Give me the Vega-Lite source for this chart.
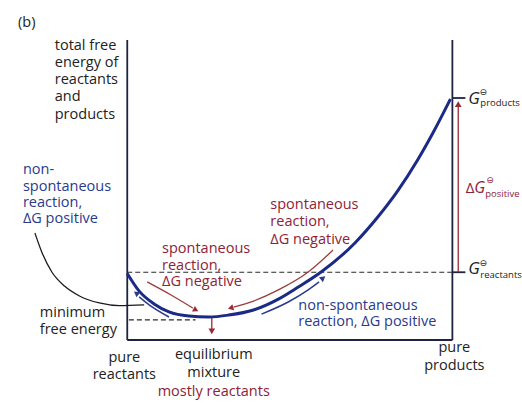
{
  "$schema": "https://vega.github.io/schema/vega-lite/v6.json",
  "width": 522,
  "height": 411,
  "autosize": {"type": "fit", "contains": "padding"},
  "padding": 0,
  "background": "white",
  "config": {"view": {"stroke": null}, "font": "Open Sans"},
  "datasets": {
    "curve": [
      {"x": 0, "y": 27.5}, {"x": 3.67, "y": 20.2}, {"x": 8.26, "y": 14.9}, {"x": 12.84, "y": 11.6},
      {"x": 18.96, "y": 9.9}, {"x": 25.08, "y": 9.5}, {"x": 31.19, "y": 10.3}, {"x": 38.84, "y": 12.4},
      {"x": 46.48, "y": 16.9}, {"x": 52.6, "y": 21.9}, {"x": 59.63, "y": 28.1}, {"x": 70.03, "y": 40.1},
      {"x": 77.06, "y": 50.8}, {"x": 83.18, "y": 61.6}, {"x": 89.3, "y": 74.4}, {"x": 94.5, "y": 86.8},
      {"x": 99.4, "y": 99.6}
    ],
    "paths": [
      {"id": "r1", "o": 1, "x": 6.12, "y": 24.0}, {"id": "r1", "o": 2, "x": 13.46, "y": 18.6}, {"id": "r1", "o": 3, "x": 20.18, "y": 13.2},
      {"id": "r2", "o": 1, "x": 63.3, "y": 37.2}, {"id": "r2", "o": 2, "x": 55.66, "y": 28.1}, {"id": "r2", "o": 3, "x": 46.48, "y": 20.7}, {"id": "r2", "o": 4, "x": 38.84, "y": 16.1}, {"id": "r2", "o": 5, "x": 32.7, "y": 13.6},
      {"id": "b1", "o": 1, "x": 12.84, "y": 9.5}, {"id": "b1", "o": 2, "x": 6.73, "y": 14.5}, {"id": "b1", "o": 3, "x": 3.67, "y": 17.8},
      {"id": "b2", "o": 1, "x": 41.3, "y": 10.7}, {"id": "b2", "o": 2, "x": 49.5, "y": 15.7}, {"id": "b2", "o": 3, "x": 55.66, "y": 20.7}, {"id": "b2", "o": 4, "x": 59.0, "y": 24.0},
      {"id": "k1", "o": 1, "x": -28.4, "y": 44.2}, {"id": "k1", "o": 2, "x": -26.3, "y": 36.4}, {"id": "k1", "o": 3, "x": -23.2, "y": 28.1}, {"id": "k1", "o": 4, "x": -19.3, "y": 22.3}, {"id": "k1", "o": 5, "x": -14.7, "y": 18.2}, {"id": "k1", "o": 6, "x": -8.6, "y": 15.3}, {"id": "k1", "o": 7, "x": -2.4, "y": 14.2}, {"id": "k1", "o": 8, "x": 5.2, "y": 14.5}
    ],
    "texts": [
      {"g": "bl", "x": -33.6, "y": 131, "t": "(b)"},
      {"g": "bl", "x": -22.3, "y": 121.5, "t": "total free"},
      {"g": "bl", "x": -22.3, "y": 114.5, "t": "energy of"},
      {"g": "bl", "x": -22.3, "y": 107.4, "t": "reactants"},
      {"g": "bl", "x": -22.3, "y": 100.4, "t": "and"},
      {"g": "bl", "x": -22.3, "y": 93.0, "t": "products"},
      {"g": "bl", "x": -26.9, "y": 11.2, "t": "minimum"},
      {"g": "bl", "x": -26.9, "y": 4.1, "t": "free energy"},
      {"g": "bc", "x": -0.9, "y": -7.4, "t": "pure"},
      {"g": "bc", "x": -0.9, "y": -14.5, "t": "reactants"},
      {"g": "bc", "x": 26.6, "y": -6.2, "t": "equilibrium"},
      {"g": "bc", "x": 26.6, "y": -13.6, "t": "mixture"},
      {"g": "bc", "x": 100.6, "y": -3.3, "t": "pure"},
      {"g": "bc", "x": 100.6, "y": -10.7, "t": "products"},
      {"g": "rc", "x": 26.6, "y": -21.5, "t": "mostly reactants"},
      {"g": "rl", "x": 10.7, "y": 37.6, "t": "spontaneous"},
      {"g": "rl", "x": 10.7, "y": 30.6, "t": "reaction,"},
      {"g": "rl", "x": 10.7, "y": 24.0, "t": "ΔG negative"},
      {"g": "rl", "x": 44.0, "y": 55.8, "t": "spontaneous"},
      {"g": "rl", "x": 44.0, "y": 48.8, "t": "reaction,"},
      {"g": "rl", "x": 44.0, "y": 41.3, "t": "ΔG negative"},
      {"g": "ul", "x": -32.1, "y": 70.2, "t": "non-"},
      {"g": "ul", "x": -32.1, "y": 63.2, "t": "spontaneous"},
      {"g": "ul", "x": -32.1, "y": 56.6, "t": "reaction,"},
      {"g": "ul", "x": -32.1, "y": 50.0, "t": "ΔG positive"},
      {"g": "ul", "x": 52.6, "y": 14.0, "t": "non-spontaneous"},
      {"g": "ul", "x": 52.6, "y": 7.4, "t": "reaction, ΔG positive"},
      {"g": "gk", "x": 104.9, "y": 99.6, "t": "G"},
      {"g": "gk", "x": 104.9, "y": 29.3, "t": "G"},
      {"g": "gr", "x": 106.7, "y": 62.8, "t": "G"},
      {"g": "dr", "x": 104.1, "y": 62.8, "t": "Δ"},
      {"g": "sk", "x": 109.5, "y": 102.5, "t": "⊖"},
      {"g": "sk", "x": 109.5, "y": 31.8, "t": "⊖"},
      {"g": "sr", "x": 111.6, "y": 66.3, "t": "⊖"},
      {"g": "subk", "x": 108.6, "y": 97.9, "t": "products"},
      {"g": "subk", "x": 108.6, "y": 26.9, "t": "reactants"},
      {"g": "subr", "x": 110.1, "y": 60.5, "t": "positive"}
    ]
  },
  "encoding": {
    "x": {"field": "x", "type": "quantitative", "scale": {"domain": [-39.14, 120.49], "nice": false, "zero": false}, "axis": null},
    "y": {"field": "y", "type": "quantitative", "scale": {"domain": [-29.34, 140.5], "nice": false, "zero": false}, "axis": null}
  },
  "layer": [
    {
      "data": {"values": [
        {"x": 0, "y": 28, "x2": 100, "y2": 28},
        {"x": 0.5, "y": 8.3, "x2": 21, "y2": 8.3}
      ]},
      "mark": {"type": "rule", "color": "#2a2a2a", "strokeWidth": 1.2, "strokeDash": [5, 3]},
      "encoding": {"x2": {"field": "x2"}, "y2": {"field": "y2"}}
    },
    {
      "data": {"values": [
        {"x": 0, "y": 0, "x2": 0, "y2": 124},
        {"x": 0, "y": 0, "x2": 100, "y2": 0},
        {"x": 100, "y": 0, "x2": 100, "y2": 124},
        {"x": 100, "y": 100, "x2": 104, "y2": 100},
        {"x": 100, "y": 28, "x2": 104, "y2": 28}
      ]},
      "mark": {"type": "rule", "color": "#1f2340", "strokeWidth": 1.8},
      "encoding": {"x2": {"field": "x2"}, "y2": {"field": "y2"}}
    },
    {
      "data": {"values": [
        {"x": 101.8, "y": 28, "x2": 101.8, "y2": 97},
        {"x": 26.0, "y": 9.3, "x2": 26.0, "y2": 4.0}
      ]},
      "mark": {"type": "rule", "color": "#9a2a36", "strokeWidth": 1.3},
      "encoding": {"x2": {"field": "x2"}, "y2": {"field": "y2"}}
    },
    {
      "data": {"name": "curve"},
      "mark": {"type": "line", "color": "#1b2a85", "strokeWidth": 3, "interpolate": "monotone"},
      "encoding": {}
    },
    {
      "data": {"name": "paths"},
      "transform": [{"filter": "datum.id === 'r1' || datum.id === 'r2'"}],
      "mark": {"type": "line", "color": "#9c3b3b", "strokeWidth": 1.3, "interpolate": "monotone"},
      "encoding": {"detail": {"field": "id"}, "order": {"field": "o"}}
    },
    {
      "data": {"name": "paths"},
      "transform": [{"filter": "datum.id === 'b1' || datum.id === 'b2'"}],
      "mark": {"type": "line", "color": "#2a3a8c", "strokeWidth": 1.5, "interpolate": "monotone"},
      "encoding": {"detail": {"field": "id"}, "order": {"field": "o"}}
    },
    {
      "data": {"name": "paths"},
      "transform": [{"filter": "datum.id === 'k1'"}],
      "mark": {"type": "line", "color": "#1a1a1a", "strokeWidth": 1.3, "interpolate": "monotone"},
      "encoding": {"order": {"field": "o"}}
    },
    {
      "data": {"values": [{"x": 101.8, "y": 97.5}]},
      "mark": {"type": "point", "shape": "triangle-up", "filled": true, "size": 45, "color": "#9a2a36", "opacity": 1}
    },
    {
      "data": {"values": [{"x": 26.0, "y": 3.6}]},
      "mark": {"type": "point", "shape": "triangle-down", "filled": true, "size": 45, "color": "#9a2a36", "opacity": 1}
    },
    {
      "data": {"values": [{"x": 21.1, "y": 12.4}]},
      "mark": {"type": "point", "shape": "triangle-right", "filled": true, "size": 40, "angle": 28, "color": "#9a2a36", "opacity": 1}
    },
    {
      "data": {"values": [{"x": 31.8, "y": 13.2}]},
      "mark": {"type": "point", "shape": "triangle-left", "filled": true, "size": 40, "angle": -17, "color": "#9a2a36", "opacity": 1}
    },
    {
      "data": {"values": [{"x": 2.75, "y": 19.4}]},
      "mark": {"type": "point", "shape": "triangle-left", "filled": true, "size": 40, "angle": 37, "color": "#2a3a8c", "opacity": 1}
    },
    {
      "data": {"values": [{"x": 60.24, "y": 25.6}]},
      "mark": {"type": "point", "shape": "triangle-right", "filled": true, "size": 40, "angle": -38, "color": "#2a3a8c", "opacity": 1}
    },
    {
      "data": {"name": "texts"},
      "transform": [{"filter": "datum.g === 'bl'"}],
      "mark": {"type": "text", "align": "left", "baseline": "middle", "fontSize": 14.5, "color": "#222222"},
      "encoding": {"text": {"field": "t"}}
    },
    {
      "data": {"name": "texts"},
      "transform": [{"filter": "datum.g === 'bc'"}],
      "mark": {"type": "text", "align": "center", "baseline": "middle", "fontSize": 14.5, "color": "#222222"},
      "encoding": {"text": {"field": "t"}}
    },
    {
      "data": {"name": "texts"},
      "transform": [{"filter": "datum.g === 'rc'"}],
      "mark": {"type": "text", "align": "center", "baseline": "middle", "fontSize": 14.5, "color": "#8e2236"},
      "encoding": {"text": {"field": "t"}}
    },
    {
      "data": {"name": "texts"},
      "transform": [{"filter": "datum.g === 'rl'"}],
      "mark": {"type": "text", "align": "left", "baseline": "middle", "fontSize": 14.5, "color": "#8e2236"},
      "encoding": {"text": {"field": "t"}}
    },
    {
      "data": {"name": "texts"},
      "transform": [{"filter": "datum.g === 'ul'"}],
      "mark": {"type": "text", "align": "left", "baseline": "middle", "fontSize": 14.5, "color": "#2a3a8c"},
      "encoding": {"text": {"field": "t"}}
    },
    {
      "data": {"name": "texts"},
      "transform": [{"filter": "datum.g === 'gk'"}],
      "mark": {"type": "text", "align": "left", "baseline": "middle", "fontSize": 17, "fontStyle": "italic", "color": "#222222"},
      "encoding": {"text": {"field": "t"}}
    },
    {
      "data": {"name": "texts"},
      "transform": [{"filter": "datum.g === 'gr'"}],
      "mark": {"type": "text", "align": "left", "baseline": "middle", "fontSize": 16, "fontStyle": "italic", "color": "#8e2236"},
      "encoding": {"text": {"field": "t"}}
    },
    {
      "data": {"name": "texts"},
      "transform": [{"filter": "datum.g === 'dr'"}],
      "mark": {"type": "text", "align": "left", "baseline": "middle", "fontSize": 15, "color": "#8e2236"},
      "encoding": {"text": {"field": "t"}}
    },
    {
      "data": {"name": "texts"},
      "transform": [{"filter": "datum.g === 'sk'"}],
      "mark": {"type": "text", "align": "center", "baseline": "middle", "fontSize": 9, "font": "DejaVu Sans", "color": "#222222"},
      "encoding": {"text": {"field": "t"}}
    },
    {
      "data": {"name": "texts"},
      "transform": [{"filter": "datum.g === 'sr'"}],
      "mark": {"type": "text", "align": "center", "baseline": "middle", "fontSize": 9, "font": "DejaVu Sans", "color": "#8e2236"},
      "encoding": {"text": {"field": "t"}}
    },
    {
      "data": {"name": "texts"},
      "transform": [{"filter": "datum.g === 'subk'"}],
      "mark": {"type": "text", "align": "left", "baseline": "middle", "fontSize": 9.5, "color": "#222222"},
      "encoding": {"text": {"field": "t"}}
    },
    {
      "data": {"name": "texts"},
      "transform": [{"filter": "datum.g === 'subr'"}],
      "mark": {"type": "text", "align": "left", "baseline": "middle", "fontSize": 9.5, "color": "#8e2236"},
      "encoding": {"text": {"field": "t"}}
    }
  ]
}
